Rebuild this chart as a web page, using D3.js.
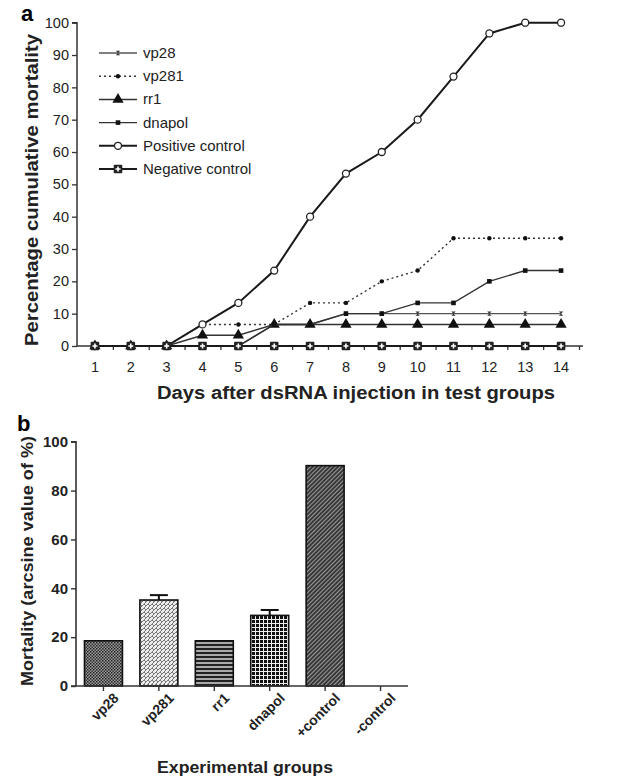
<!DOCTYPE html>
<html>
<head>
<meta charset="utf-8">
<script src="https://cdn.jsdelivr.net/npm/d3@7"></script>
<style>
    body { margin: 0; background: #fff; }
    svg { display: block; font-family: "Liberation Sans", Arial, sans-serif; }
</style>
</head>
<body>
<svg id="chart"></svg>
<script>
'use strict';

// panel a: cumulative mortality by day
const days = [1, 2, 3, 4, 5, 6, 7, 8, 9, 10, 11, 12, 13, 14];
const vp28 = [0, 0, 0, 0, 0, 6.67, 6.67, 10, 10, 10, 10, 10, 10, 10];
const vp281 = [0, 0, 0, 6.67, 6.67, 6.67, 13.33, 13.33, 20, 23.33, 33.33, 33.33, 33.33, 33.33];
const rr1 = [0, 0, 0, 3.33, 3.33, 6.67, 6.67, 6.67, 6.67, 6.67, 6.67, 6.67, 6.67, 6.67];
const dnapol = [0, 0, 0, 0, 0, 6.67, 6.67, 10, 10, 13.33, 13.33, 20, 23.33, 23.33];
const positiveControl = [0, 0, 0, 6.67, 13.33, 23.33, 40, 53.33, 60, 70, 83.33, 96.67, 100, 100];
const negativeControl = [0, 0, 0, 0, 0, 0, 0, 0, 0, 0, 0, 0, 0, 0];
const seriesNames = ['vp28', 'vp281', 'rr1', 'dnapol', 'Positive control', 'Negative control'];
const lineTicks = [0, 10, 20, 30, 40, 50, 60, 70, 80, 90, 100];

// panel b: arcsine mortality per group
const groups = ['vp28', 'vp281', 'rr1', 'dnapol', '+control', '-control'];
const groupMeans = [18.5, 35.2, 18.5, 28.9, 90.2, 0];
const groupErrors = [0, 2.0, 0, 2.2, 0, 0];
const barTicks = [0, 20, 40, 60, 80, 100];

(function () {
    const svg = d3.select('#chart')
        .attr('width', 640)
        .attr('height', 776);

    // ---------- patterns ----------
    const defs = svg.append('defs');

    const pVp28 = defs.append('pattern').attr('id', 'p-vp28')
        .attr('patternUnits', 'userSpaceOnUse').attr('width', 3).attr('height', 3);
    pVp28.append('rect').attr('width', 3).attr('height', 3).attr('fill', '#9a9a9a');
    pVp28.append('rect').attr('width', 1.5).attr('height', 1.5).attr('fill', '#222');
    pVp28.append('rect').attr('x', 1.5).attr('y', 1.5).attr('width', 1.5).attr('height', 1.5).attr('fill', '#333');

    const pVp281 = defs.append('pattern').attr('id', 'p-vp281')
        .attr('patternUnits', 'userSpaceOnUse').attr('width', 4).attr('height', 4);
    pVp281.append('rect').attr('width', 4).attr('height', 4).attr('fill', '#eee');
    pVp281.append('path').attr('d', 'M0,4L4,0M0,0L2,2')
        .attr('stroke', '#777').attr('stroke-width', 1);

    const pRr1 = defs.append('pattern').attr('id', 'p-rr1')
        .attr('patternUnits', 'userSpaceOnUse').attr('width', 4).attr('height', 4);
    pRr1.append('rect').attr('width', 4).attr('height', 4).attr('fill', '#aaa');
    pRr1.append('rect').attr('width', 4).attr('height', 2).attr('fill', '#222');

    const pDnapol = defs.append('pattern').attr('id', 'p-dnapol')
        .attr('patternUnits', 'userSpaceOnUse').attr('width', 4).attr('height', 4);
    pDnapol.append('rect').attr('width', 4).attr('height', 4).attr('fill', '#eee');
    pDnapol.append('rect').attr('width', 3).attr('height', 3).attr('fill', '#111');

    const pPos = defs.append('pattern').attr('id', 'p-pos')
        .attr('patternUnits', 'userSpaceOnUse').attr('width', 3).attr('height', 3)
        .attr('patternTransform', 'rotate(45)');
    pPos.append('rect').attr('width', 3).attr('height', 3).attr('fill', '#333');
    pPos.append('rect').attr('width', 1.1).attr('height', 3).attr('fill', '#999');

    const barFills = ['url(#p-vp28)', 'url(#p-vp281)', 'url(#p-rr1)', 'url(#p-dnapol)', 'url(#p-pos)', 'none'];

    // ---------- panel a ----------
    const x = d3.scaleLinear().domain([0.5, 14.5]).range([77, 579]);
    const y = d3.scaleLinear().domain([0, 100]).range([346, 22.7]);

    const yAxisA = svg.append('g')
        .attr('transform', 'translate(77,0)')
        .call(d3.axisLeft(y).tickValues(lineTicks).tickSize(5).tickPadding(3));
    yAxisA.select('.domain').attr('stroke-width', 1.5).attr('stroke', '#333').attr('d', 'M-5,22.7H0V346');
    yAxisA.selectAll('.tick line').attr('stroke-width', 1.3).attr('stroke', '#333');
    yAxisA.selectAll('text').attr('font-size', 14.5).attr('fill', '#222')
        .attr('font-family', '"Liberation Sans", Arial, sans-serif');

    const halfDays = days.map(d => d + 0.5);
    const xAxisA = svg.append('g')
        .attr('transform', 'translate(0,346)')
        .call(d3.axisBottom(x).tickValues(halfDays).tickSize(4).tickFormat(''));
    xAxisA.select('.domain').attr('stroke-width', 1.5).attr('stroke', '#333').attr('d', 'M77,0H583');
    xAxisA.selectAll('.tick line').attr('stroke-width', 1.3).attr('stroke', '#333');

    svg.append('g')
        .selectAll('text')
        .data(days)
        .join('text')
        .attr('x', d => x(d))
        .attr('y', 372)
        .attr('text-anchor', 'middle')
        .attr('font-size', 14.5)
        .attr('fill', '#222')
        .text(d => d);

    svg.append('text')
        .attr('transform', 'translate(38,190) rotate(-90)')
        .attr('text-anchor', 'middle')
        .attr('font-size', 17.5)
        .attr('font-weight', 'bold')
        .attr('fill', '#222')
        .attr('textLength', 312)
        .attr('lengthAdjust', 'spacingAndGlyphs')
        .text('Percentage cumulative mortality');

    svg.append('text')
        .attr('x', 356)
        .attr('y', 399)
        .attr('text-anchor', 'middle')
        .attr('font-size', 17.5)
        .attr('font-weight', 'bold')
        .attr('fill', '#222')
        .attr('textLength', 398)
        .attr('lengthAdjust', 'spacingAndGlyphs')
        .text('Days after dsRNA injection in test groups');

    svg.append('text')
        .attr('x', 21).attr('y', 21)
        .attr('font-size', 22).attr('font-weight', 'bold')
        .text('a');

    // marker drawers
    const markers = [
        (g) => g.append('path').attr('d', 'M-2.2,-2.2L2.2,-2.2L-2.2,2.2L2.2,2.2Z').attr('fill', '#333'),
        (g) => g.append('circle').attr('r', 2.2).attr('fill', '#111'),
        (g) => g.append('path').attr('d', d3.symbol(d3.symbolTriangle, 55)()).attr('fill', '#111'),
        (g) => g.append('rect').attr('x', -2.3).attr('y', -2.3).attr('width', 4.6).attr('height', 4.6).attr('fill', '#111'),
        (g) => g.append('circle').attr('r', 3.5).attr('fill', '#fff').attr('stroke', '#222').attr('stroke-width', 1.3),
        (g) => {
            g.append('rect').attr('x', -4.3).attr('y', -4.3).attr('width', 8.6).attr('height', 8.6)
                .attr('rx', 1).attr('fill', '#222');
            g.append('path').attr('d', 'M-2.5,0H2.5M0,-2.5V2.5')
                .attr('stroke', '#fff').attr('stroke-width', 1.6);
        }
    ];
    const lineStyles = [
        {color: '#555', width: 1.4, dash: null},
        {color: '#333', width: 1.4, dash: '2,3'},
        {color: '#333', width: 1.5, dash: null},
        {color: '#333', width: 1.4, dash: null},
        {color: '#1a1a1a', width: 2, dash: null},
        {color: '#1a1a1a', width: 2.2, dash: null}
    ];
    const allSeries = [vp28, vp281, rr1, dnapol, positiveControl, negativeControl];

    const line = d3.line()
        .x((d, i) => x(days[i]))
        .y(d => y(d));

    allSeries.forEach((values, s) => {
        const st = lineStyles[s];
        svg.append('path')
            .datum(values)
            .attr('d', line)
            .attr('fill', 'none')
            .attr('stroke', st.color)
            .attr('stroke-width', st.width)
            .attr('stroke-dasharray', st.dash);
        values.forEach((v, i) => {
            const g = svg.append('g').attr('transform', `translate(${x(days[i])},${y(v)})`);
            markers[s](g);
        });
    });

    // legend
    const legend = svg.append('g');
    seriesNames.forEach((name, s) => {
        const ly = 53 + s * 23.2;
        const st = lineStyles[s];
        legend.append('line')
            .attr('x1', 99).attr('x2', 137).attr('y1', ly).attr('y2', ly)
            .attr('stroke', st.color).attr('stroke-width', st.width)
            .attr('stroke-dasharray', st.dash);
        markers[s](legend.append('g').attr('transform', `translate(118,${ly})`));
        legend.append('text')
            .attr('x', 143).attr('y', ly + 5)
            .attr('font-size', 15).attr('fill', '#222')
            .text(name);
    });

    // ---------- panel b ----------
    const xb = d3.scaleBand().domain(groups).range([76, 408])
        .paddingInner(0.315).paddingOuter(0.153);
    const yb = d3.scaleLinear().domain([0, 100]).range([686, 441.7]);

    svg.append('g')
        .selectAll('rect')
        .data(groups)
        .join('rect')
        .attr('x', d => xb(d))
        .attr('y', (d, i) => yb(groupMeans[i]))
        .attr('width', xb.bandwidth())
        .attr('height', (d, i) => yb(0) - yb(groupMeans[i]))
        .attr('fill', (d, i) => barFills[i])
        .attr('stroke', (d, i) => groupMeans[i] > 0 ? '#111' : 'none')
        .attr('stroke-width', 1.6);

    const err = svg.append('g')
        .selectAll('g')
        .data(groups.filter((d, i) => groupErrors[i] > 0))
        .join('g');
    err.append('line')
        .attr('x1', d => xb(d) + xb.bandwidth() / 2)
        .attr('x2', d => xb(d) + xb.bandwidth() / 2)
        .attr('y1', d => yb(groupMeans[groups.indexOf(d)]))
        .attr('y2', d => { const i = groups.indexOf(d); return yb(groupMeans[i] + groupErrors[i]); })
        .attr('stroke', '#111').attr('stroke-width', 2);
    err.append('line')
        .attr('x1', d => xb(d) + xb.bandwidth() / 2 - 9)
        .attr('x2', d => xb(d) + xb.bandwidth() / 2 + 9)
        .attr('y1', d => { const i = groups.indexOf(d); return yb(groupMeans[i] + groupErrors[i]); })
        .attr('y2', d => { const i = groups.indexOf(d); return yb(groupMeans[i] + groupErrors[i]); })
        .attr('stroke', '#111').attr('stroke-width', 2);

    const yAxisB = svg.append('g')
        .attr('transform', 'translate(76,0)')
        .call(d3.axisLeft(yb).tickValues(barTicks).tickSize(5).tickPadding(3));
    yAxisB.select('.domain').attr('stroke-width', 1.6).attr('stroke', '#333').attr('d', 'M-5,441.7H0V686');
    yAxisB.selectAll('.tick line').attr('stroke-width', 1.4).attr('stroke', '#333');
    yAxisB.selectAll('text').attr('font-size', 15).attr('font-weight', 'bold').attr('fill', '#222')
        .attr('font-family', '"Liberation Sans", Arial, sans-serif');

    const xAxisB = svg.append('g')
        .attr('transform', 'translate(0,686)')
        .call(d3.axisBottom(xb).tickSize(5));
    xAxisB.select('.domain').attr('stroke-width', 1.6).attr('stroke', '#333').attr('d', 'M71,0H408');
    xAxisB.selectAll('.tick line').attr('stroke-width', 1.4).attr('stroke', '#333');
    xAxisB.selectAll('text')
        .attr('font-size', 14).attr('font-weight', 'bold').attr('fill', '#222')
        .attr('font-family', '"Liberation Sans", Arial, sans-serif')
        .attr('text-anchor', 'end')
        .attr('y', 0)
        .attr('dy', 0)
        .attr('transform', 'translate(16,13) rotate(-45)');

    svg.append('text')
        .attr('transform', 'translate(33,561) rotate(-90)')
        .attr('text-anchor', 'middle')
        .attr('font-size', 16)
        .attr('font-weight', 'bold')
        .attr('fill', '#222')
        .attr('textLength', 250)
        .attr('lengthAdjust', 'spacingAndGlyphs')
        .text('Mortality (arcsine value of %)');

    svg.append('text')
        .attr('x', 245)
        .attr('y', 773)
        .attr('text-anchor', 'middle')
        .attr('font-size', 16.5)
        .attr('font-weight', 'bold')
        .attr('fill', '#222')
        .attr('textLength', 176)
        .attr('lengthAdjust', 'spacingAndGlyphs')
        .text('Experimental groups');

    svg.append('text')
        .attr('x', 17).attr('y', 431)
        .attr('font-size', 22).attr('font-weight', 'bold')
        .text('b');
})();
</script>
</body>
</html>
